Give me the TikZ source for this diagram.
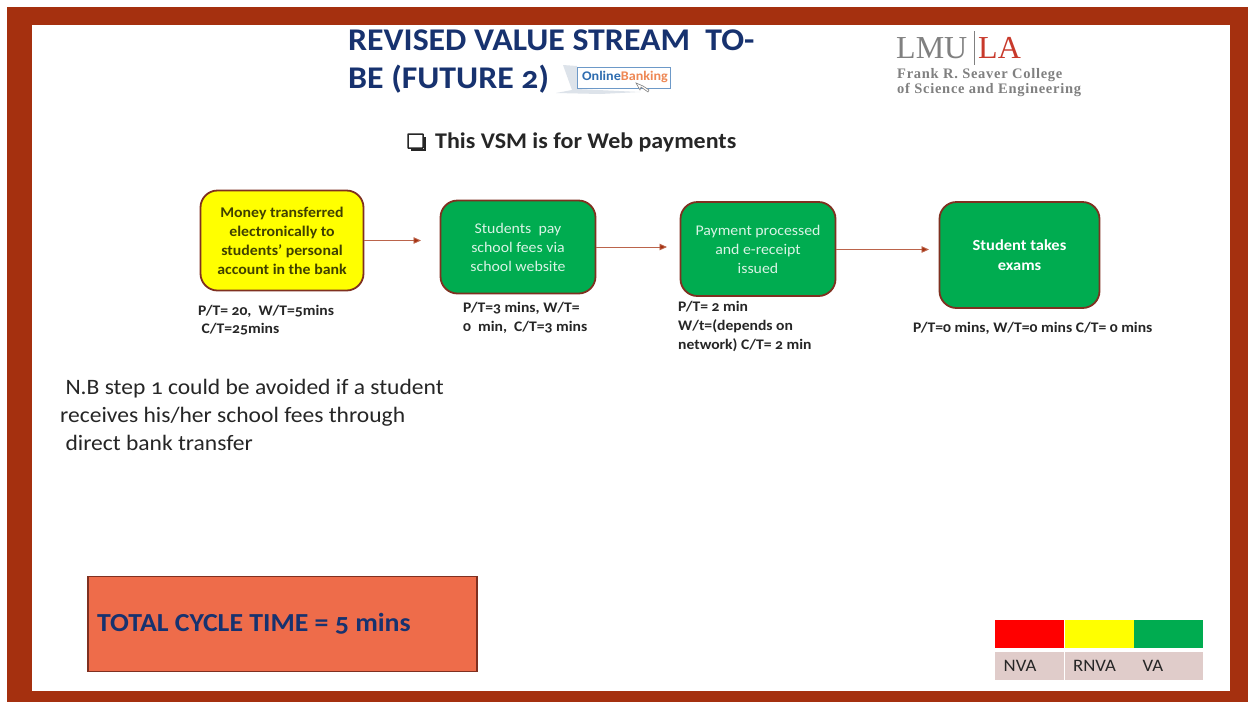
\documentclass[tikz,border=0pt]{standalone}
\usepackage{fontspec}
\setmainfont[Numbers=OldStyle,FakeStretch=1.07]{Carlito}
\newfontfamily\serifx{Liberation Serif}
\newfontfamily\serifl[LetterSpace=5]{Liberation Serif}
\usetikzlibrary{arrows.meta,positioning}
\definecolor{frameC}{HTML}{A5300F}
\definecolor{titleC}{HTML}{17326F}
\definecolor{greenC}{HTML}{00AC50}
\definecolor{edgeC}{HTML}{7F3020}
\definecolor{orangeC}{HTML}{EE6C4A}
\definecolor{cellC}{HTML}{E0CCCA}
\definecolor{txtC}{HTML}{262626}
\definecolor{yelC}{HTML}{FFFF00}
\definecolor{redC}{HTML}{FF0000}
\definecolor{oliveC}{HTML}{404000}
\definecolor{softW}{HTML}{D9F3E5}
\definecolor{logoG}{HTML}{808080}
\definecolor{logoR}{HTML}{C8392B}
\definecolor{badgeB}{HTML}{2F6DB0}
\definecolor{badgeO}{HTML}{EE8855}
\definecolor{shadeC}{HTML}{DDE3EA}
\tikzset{
  stepbox/.style={draw=edgeC,line width=1.8pt,rounded corners=17pt,align=center,inner sep=0pt,font=\fontsize{14.8}{19}\selectfont},
  greenbox/.style={stepbox,fill=greenC,text=softW},
  flow/.style={draw=frameC!75!white,line width=0.9pt,-{Triangle[length=7.5pt,width=6.5pt,fill=frameC]}},
  note/.style={anchor=north west,align=left,inner sep=0pt,text=txtC,font=\fontsize{14.6}{19}\selectfont\bfseries},
  cell/.style={inner sep=0pt,minimum width=69pt,minimum height=28pt,fill=cellC,text=txtC,anchor=north west,text width=60pt,align=left,font=\fontsize{17.5}{18}\selectfont},
  swatch/.style={inner sep=0pt,minimum width=69pt,minimum height=28pt,anchor=north west},
  titletxt/.style={anchor=west,inner sep=0pt,text=titleC,font=\fontsize{31.6}{36}\selectfont\bfseries},
}
\begin{document}
\begin{tikzpicture}[x=1pt,y=-1pt]
\useasboundingbox (0,0) rectangle (1248,702);
\fill[white] (0,0) rectangle (1248,702);
\fill[frameC] (7,7) rectangle (1248,702);
\fill[white] (32,25) rectangle (1230,691);
% title
\node[titletxt] (t1) at (348,40) {REVISED VALUE STREAM\ \ TO-};
\node[titletxt,anchor=base west] (t2) at (348,88.5) {BE (FUTURE 2)};
% online banking badge
\fill[shadeC] (556,93) -- (572,90) -- (563,65) -- (577,66) -- (577,89) -- (640,92) -- (600,94) -- cycle;
\draw[draw=badgeB!70!white,fill=white,line width=1pt] (577,67) rectangle (670,88);
\node[inner sep=0pt,font=\fontsize{13.2}{12}\selectfont\bfseries] (ob) at (625,76.5) {\textcolor{badgeB}{Online}\textcolor{badgeO}{Banking}};
\draw[black!50,fill=white,line width=.6pt] (636,83) -- (640,90) -- (641,87) -- (648,92) -- (649,90) -- (643,86) -- cycle;
% logo
\node[anchor=west,inner sep=0pt,text=logoG,font=\serifx\fontsize{32}{34}\selectfont] (lmu) at (896,48) {LMU};
\node[anchor=west,inner sep=0pt,text=logoR,font=\serifx\fontsize{32}{34}\selectfont] (la) at (978,48) {LA};
\draw[logoG,line width=.7pt] (974,31) -- (974,65);
\node[anchor=north west,inner sep=0pt,align=left,text=logoG,font=\serifl\fontsize{14.5}{15}\selectfont\bfseries] (col) at (897,68) {Frank R. Seaver College\\of Science and Engineering};
% subtitle
\node[anchor=west,inner sep=0pt,font=\fontsize{22.4}{26}\selectfont\bfseries,text=black!85] (sub) at (435,142) {This VSM is for Web payments};
\draw[black!85,line width=1.5pt,rounded corners=.5pt] (408,134) rectangle (423,148);
\draw[black!85,line width=1.5pt] (425,137) -- (425,150) -- (411,150);
% boxes
\node[stepbox,fill=yelC,text=oliveC,minimum width=163pt,minimum height=100pt,font=\fontsize{14.8}{19}\selectfont\bfseries] (a) at (282,240.5) {Money transferred\\electronically to\\students’ personal\\account in the bank};
\node[greenbox,minimum width=155pt,minimum height=93pt] (b) at (518,247) {Students\ \ pay\\school fees via\\school website};
\node[greenbox,minimum width=155pt,minimum height=94pt] (c) at (758,249) {Payment processed\\and e-receipt\\issued};
\node[greenbox,minimum width=160pt,minimum height=106pt,font=\fontsize{15.4}{19.5}\selectfont\bfseries,text=white] (d) at (1019.5,255) {Student takes\\exams};
% arrows
\coordinate (ae) at (421,240.5);
\coordinate (be) at (667,247);
\coordinate (ce) at (929,249.5);
\draw[flow] (a.east |- ae) -- (ae);
\draw[flow] (b.east |- be) -- (be);
\draw[flow] (c.east |- ce) -- (ce);
% notes
\node[note,font=\fontsize{14.6}{18.5}\selectfont\bfseries] (n1) at (198,305) {P/T= 20,\ \ W/T=5mins\\\ C/T=25mins};
\node[note] (n2) at (463,302) {P/T=3 mins, W/T=\\0\ \ min,\ \ C/T=3 mins};
\node[note] (n3) at (678,301) {P/T= 2 min\\W/t=(depends on\\network) C/T= 2 min};
\node[note] (n4) at (913,322) {P/T=0 mins, W/T=0 mins C/T= 0 mins};
% N.B.
\node[anchor=north west,inner sep=0pt,align=left,text=txtC,font=\fontsize{22}{28}\selectfont] (nb) at (60,379) {\ N.B step 1 could be avoided if a student\\receives his/her school fees through\\\ direct bank transfer};
% total
\node[draw=edgeC,line width=1.6pt,fill=orangeC,anchor=north west,minimum width=389pt,minimum height=95pt,inner sep=0pt] (tot) at (87,575.5) {};
\node[anchor=west,inner sep=0pt,text=titleC,font=\fontsize{26}{28}\selectfont\bfseries] (tott) at (97,624) {TOTAL CYCLE TIME = 5 mins};
% legend
\node[swatch,fill=redC] (r1) at (995,620) {};
\node[swatch,fill=yelC] (r2) at (1064.5,620) {};
\node[swatch,fill=greenC] (r3) at (1134,620) {};
\node[cell] (c1) at (995,652) {\hspace*{4pt}NVA};
\node[cell] (c2) at (1064.5,652) {\hspace*{4pt}RNVA};
\node[cell] (c3) at (1134,652) {\hspace*{4pt}VA};
\end{tikzpicture}
\end{document}
